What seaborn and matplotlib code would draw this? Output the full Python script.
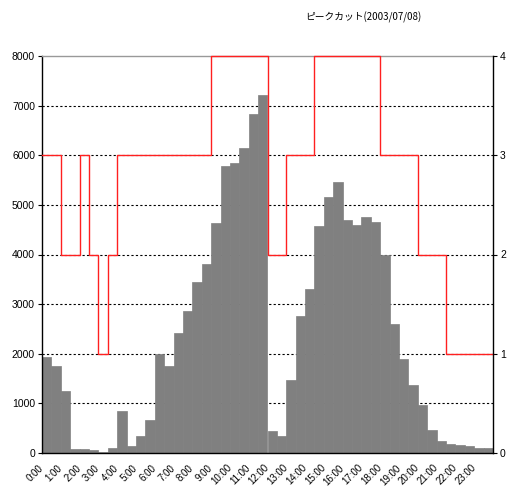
import numpy as np
import pandas as pd
import seaborn as sns
import matplotlib
matplotlib.use('Agg')
import matplotlib.pyplot as plt

# half-hour slots 0:00 .. 23:30
slots = ['%d:%02d' % (h, m) for h in range(24) for m in (0, 30)]

# demand (left axis)
demand = [1940, 1750, 1250, 80, 75, 55, 30, 95, 850, 150, 350, 670,
          2000, 1750, 2420, 2870, 3440, 3800, 4640, 5780, 5840, 6150, 6840, 7220,
          450, 335, 1470, 2760, 3300, 4580, 5150, 5470, 4690, 4600, 4750, 4660,
          4000, 2600, 1900, 1370, 970, 470, 240, 180, 155, 135, 95, 95]

# peak-cut level (right axis)
level = [3, 3, 2, 2, 3, 2, 1, 2, 3, 3, 3, 3, 3, 3, 3, 3, 3, 3,
         4, 4, 4, 4, 4, 4, 2, 2, 3, 3, 3, 4, 4, 4, 4, 4, 4, 4,
         3, 3, 3, 3, 2, 2, 2, 1, 1, 1, 1, 1]

hour_labels = ['%d:00' % h for h in range(24)]
left_ticks = list(range(0, 8001, 1000))
right_ticks = [0, 1, 2, 3, 4]

plt.rcParams['font.family'] = ['Liberation Sans', 'Noto Sans CJK JP', 'DejaVu Sans']

fig = plt.figure(figsize=(5.07, 4.93), dpi=100)
ax = fig.add_axes([42 / 507, 40 / 493, 451 / 507, 397 / 493])

df = pd.DataFrame({'slot': slots, 'demand': demand})
sns.barplot(data=df, x='slot', y='demand', color='#808080', saturation=1,
            width=1.0, linewidth=0.5, edgecolor='#808080', ax=ax)
ax.set_xlim(-0.5, len(slots) - 0.5)
ax.set_ylim(0, 8000)
ax.set_yticks(left_ticks)
ax.set_xlabel('')
ax.set_ylabel('')
ax.set_axisbelow(True)
ax.yaxis.grid(True, color='black', linestyle=(0, (2, 2)), linewidth=0.8)
ax.get_ygridlines()[-1].set_visible(False)
ax.get_ygridlines()[0].set_visible(False)

# hour labels, shifted a bit left/down of the slot like the original export
ax.set_xticks([])
for i, lab in enumerate(hour_labels):
    ax.annotate(lab, xy=(2 * i, 0), xycoords=('data', 'axes fraction'),
                xytext=(-6, -7), textcoords='offset points',
                rotation=45, ha='right', va='top', rotation_mode='anchor',
                fontsize=7, annotation_clip=False)
ax.tick_params(axis='y', length=3, width=0.8, pad=2, labelsize=7.5, color='black')

for s in ['left', 'bottom']:
    ax.spines[s].set_color('black')
    ax.spines[s].set_linewidth(1)
ax.spines['top'].set_color('#999999')
ax.spines['top'].set_linewidth(1)
ax.spines['right'].set_visible(False)

ax2 = ax.twinx()
edges = np.arange(len(slots) + 1) - 0.5
sns.lineplot(x=edges, y=level + [level[-1]], drawstyle='steps-post',
             color='#ff2020', linewidth=1, ax=ax2, clip_on=False)
ax2.set_xlim(-0.5, len(slots) - 0.5)
ax2.set_ylim(0, 4)
ax2.set_yticks(right_ticks)
ax2.set_ylabel('')
ax2.tick_params(axis='y', length=3, width=0.8, pad=2, labelsize=7.5, color='black')
for s in ['left', 'bottom', 'top']:
    ax2.spines[s].set_visible(False)
ax2.spines['right'].set_color('black')
ax2.spines['right'].set_linewidth(1)

fig.text(305 / 507, 1 - 17 / 493, 'ピークカット(2003/07/08)', fontsize=7,
         family=['Noto Sans CJK JP', 'DejaVu Sans'], ha='left', va='center')

fig.savefig('out.png', dpi=100)
